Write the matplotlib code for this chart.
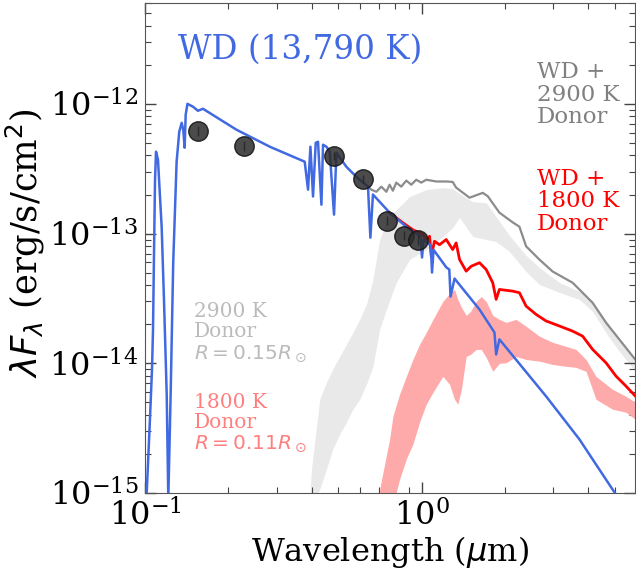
import matplotlib
matplotlib.use("Agg")
import matplotlib.pyplot as plt

plt.rcParams["font.family"] = "serif"
plt.rcParams["font.serif"] = ["DejaVu Serif"]
plt.rcParams["mathtext.fontset"] = "dejavusans"

# --- WD model spectrum (um, erg/s/cm2) ---
wd_wl = [0.1012, 0.1042, 0.106, 0.1069, 0.1077, 0.1087, 0.1096, 0.1114, 0.1149, 0.1171,
         0.1198, 0.1214, 0.1238, 0.1265, 0.1301, 0.133, 0.1357, 0.1375, 0.1391, 0.1403,
         0.1424, 0.1494, 0.1553, 0.162, 0.2143, 0.2827, 0.378, 0.3886, 0.3964, 0.4051,
         0.4143, 0.4223, 0.4344, 0.4403, 0.4529, 0.4656, 0.4825, 0.4922, 0.5348, 0.5812,
         0.6402, 0.6531, 0.6672, 0.7664, 0.8808, 0.9918, 1.004, 1.017, 1.08, 1.091,
         1.105, 1.228, 1.26, 1.273, 1.316, 1.62, 1.835, 1.861, 1.912, 2.82,
         3.72, 4.90, 5.41]
wd_flux = [9e-16, 3.71e-15, 9e-15, 1.83e-14, 6.31e-14, 2.6e-13, 4.28e-13, 3.71e-13, 1.11e-13, 3.11e-14,
           5.78e-15, 9e-16, 5.78e-15, 6.09e-14, 3.58e-13, 6.09e-13, 7.14e-13, 6.31e-13, 4.59e-13, 8.23e-13,
           1.0e-12, 9.48e-13, 8.84e-13, 9.16e-13, 6.31e-13, 4.67e-13, 3.58e-13, 2.18e-13, 4.67e-13, 1.93e-13,
           5.01e-13, 5.1e-13, 1.67e-13, 4.84e-13, 4.67e-13, 4.28e-13, 1.40e-13, 4.2e-13, 3.27e-13, 2.74e-13,
           2.3e-13, 9.3e-14, 2.0e-13, 1.45e-13, 1.13e-13, 9.48e-14, 6.54e-14, 9e-14, 8.1e-14, 5.01e-14,
           7.5e-14, 5.5e-14, 5.28e-14, 3.27e-14, 4.5e-14, 2.6e-14, 1.73e-14, 1.17e-14, 1.53e-14, 5.57e-15,
           2.6e-15, 1.07e-15, 7.8e-16]

# --- WD + 2900 K donor ---
wd29_wl = [0.6402, 0.658, 0.686, 0.7155, 0.746, 0.7664, 0.7877, 0.8101, 0.8445, 0.8808,
           0.9181, 0.957, 0.9975, 1.04, 1.13, 1.228, 1.296, 1.334, 1.491, 1.665,
           1.736, 1.912, 2.136, 2.259, 2.388, 2.667, 2.979, 3.518, 4.154, 4.644,
           5.187, 5.925]
wd29_flux = [2.3e-13, 2.18e-13, 2.1e-13, 2.3e-13, 2.1e-13, 2.38e-13, 2.14e-13, 2.47e-13, 2.3e-13, 2.56e-13,
             2.38e-13, 2.6e-13, 2.47e-13, 2.6e-13, 2.52e-13, 2.52e-13, 2.5e-13, 2.26e-13, 1.89e-13, 2.06e-13,
             1.94e-13, 1.45e-13, 1.22e-13, 1.13e-13, 7.98e-14, 6.31e-14, 5.1e-14, 4.18e-14, 2.93e-14, 2.06e-14,
             1.53e-14, 1.07e-14]

# --- WD + 1800 K donor ---
wd18_wl = [0.7664, 0.8561, 0.9302, 1.011, 1.04, 1.069, 1.084, 1.114, 1.161, 1.228,
           1.296, 1.334, 1.372, 1.45, 1.512, 1.62, 1.713, 1.809, 1.861, 1.912,
           2.136, 2.259, 2.388, 2.596, 2.82, 3.149, 3.518, 3.823, 4.154, 4.644,
           5.045, 5.483, 5.925]
wd18_flux = [1.45e-13, 1.21e-13, 1.07e-13, 9.83e-14, 9e-14, 9.53e-14, 6.68e-14, 8.73e-14, 8.2e-14, 9e-14,
             7.53e-14, 8.47e-14, 6.31e-14, 5.13e-14, 5.6e-14, 5.96e-14, 5.28e-14, 4.18e-14, 3.11e-14, 3.71e-14,
             3.6e-14, 3.5e-14, 2.76e-14, 2.38e-14, 2.12e-14, 1.94e-14, 1.77e-14, 1.62e-14, 1.28e-14, 1.01e-14,
             7.98e-15, 6.68e-15, 5.6e-15]

# --- donor-only spectra (noisy: upper / lower envelope) ---
d29_wl = [0.394, 0.40, 0.4283, 0.4529, 0.4773, 0.5058, 0.5348, 0.5649, 0.5973, 0.6317,
          0.6672, 0.7053, 0.746, 0.8101, 0.9053, 1.04, 1.194, 1.296, 1.372, 1.532,
          1.713, 1.861, 2.078, 2.388, 2.667, 3.149, 3.72, 4.154, 4.77, 5.187, 5.925]
d29_hi = [9e-16, 1.53e-15, 5.28e-15, 7.14e-15, 9e-15, 1.13e-14, 1.4e-14, 1.73e-14, 2.18e-14, 2.84e-14,
          4.43e-14, 9e-14, 1.24e-13, 1.53e-13, 1.93e-13, 2.18e-13, 2.26e-13, 2.22e-13, 2.03e-13, 1.76e-13,
          1.73e-13, 1.35e-13, 9.66e-14, 6.78e-14, 5.47e-14, 4.2e-14, 3.58e-14, 3e-14, 1.96e-14, 1.48e-14, 1.04e-14]
d29_lo = [8e-16, 8e-16, 1.07e-15, 1.53e-15, 2.18e-15, 2.84e-15, 3.52e-15, 4.43e-15, 5.28e-15, 6.89e-15,
          9.48e-15, 1.83e-14, 2.6e-14, 4.2e-14, 6.31e-14, 7.53e-14, 9.48e-14, 1.11e-13, 1.33e-13, 9.48e-14,
          9e-14, 8.67e-14, 7.27e-14, 5.1e-14, 4.05e-14, 3.52e-14, 3.11e-14, 2.51e-14, 1.58e-14, 1.24e-14, 8.67e-15]

d18_wl = [0.7053, 0.7664, 0.7877, 0.8329, 0.8808, 0.9302, 0.9836, 1.04, 1.10, 1.194,
          1.262, 1.316, 1.352, 1.394, 1.45, 1.503, 1.576, 1.643, 1.713, 1.809,
          1.912, 2.022, 2.198, 2.388, 2.667, 2.979, 3.33, 3.619, 3.933, 4.273,
          4.90, 5.483, 5.925]
d18_hi = [1.07e-15, 2.6e-15, 3.91e-15, 5.78e-15, 7.94e-15, 1.07e-14, 1.4e-14, 1.73e-14, 2.18e-14, 3e-14,
          3.45e-14, 3.71e-14, 3.11e-14, 2.7e-14, 2.34e-14, 2.51e-14, 3.0e-14, 3.27e-14, 3.0e-14, 2.34e-14,
          2.18e-14, 2.07e-14, 2.18e-14, 1.93e-14, 1.62e-14, 1.45e-14, 1.35e-14, 1.28e-14, 1.07e-14, 7.94e-15,
          6.31e-15, 5.57e-15, 5.01e-15]
d18_lo = [8e-16, 8e-16, 8e-16, 1.28e-15, 1.83e-15, 2.38e-15, 3.52e-15, 4.84e-15, 5.98e-15, 7.94e-15,
          6.89e-15, 5.28e-15, 4.84e-15, 6.31e-15, 1.13e-14, 1.17e-14, 1.28e-14, 1.28e-14, 1.11e-14, 8.67e-15,
          1.0e-14, 1.01e-14, 1.13e-14, 1.07e-14, 1.04e-14, 9.8e-15, 9.48e-15, 9.3e-15, 8.67e-15, 5.28e-15,
          4.43e-15, 4.2e-15, 3.71e-15]

# --- photometry ---
phot_wl = [0.1553, 0.2277, 0.481, 0.612, 0.747, 0.861, 0.967]
phot_flux = [6.2e-13, 4.75e-13, 3.98e-13, 2.65e-13, 1.26e-13, 9.66e-14, 8.99e-14]
phot_err = [6e-14, 4.5e-14, 3e-14, 2e-14, 1e-14, 8e-15, 8e-15]

fig = plt.figure(figsize=(6.36, 5.72), dpi=100)
ax = fig.add_axes([0.228, 0.138, 0.770, 0.857])

ax.fill_between(d29_wl, d29_lo, d29_hi, color="#e9e9e9", lw=0, zorder=1)
ax.fill_between(d18_wl, d18_lo, d18_hi, color="#ffaaaa", lw=0, zorder=2)
ax.plot(wd29_wl, wd29_flux, color="#8c8c8c", lw=1.6, zorder=3)
ax.plot(wd18_wl, wd18_flux, color="red", lw=2.0, zorder=4)
ax.plot(wd_wl, wd_flux, color="royalblue", lw=1.8, zorder=5)
ax.errorbar(phot_wl, phot_flux, yerr=phot_err, fmt="o", ms=14, color="#2b2b2b",
            alpha=0.85, mec="#111111", ecolor="k", elinewidth=1, capsize=0, zorder=6)

ax.set_xscale("log")
ax.set_yscale("log")
ax.set_xlim(0.1, 5.9)
ax.set_ylim(1e-15, 6e-12)

ax.tick_params(which="both", direction="in", top=True, right=True, colors="#444444",
               labelcolor="black", labelsize=23, pad=5)
ax.tick_params(which="major", length=8, width=1)
ax.tick_params(which="minor", length=4, width=0.8)
for s in ax.spines.values():
    s.set_color("#555555")

ax.set_xlabel(r"Wavelength ($\mu$m)", fontsize=23)
ax.set_ylabel(r"$\lambda F_\lambda$ (erg/s/cm$^2$)", fontsize=25.5)
ax.xaxis.set_label_coords(0.5, -0.083)
ax.yaxis.set_label_coords(-0.2, 0.51)

ax.text(0.068, 0.905, "WD (13,790 K)", transform=ax.transAxes, color="royalblue",
        fontsize=23.5, va="center", ha="left")
ax.text(0.8, 0.882, "WD +\n2900 K\nDonor", transform=ax.transAxes, color="#808080",
        fontsize=16.5, va="top", ha="left", linespacing=1.05)
ax.text(0.8, 0.664, "WD +\n1800 K\nDonor", transform=ax.transAxes, color="red",
        fontsize=16.5, va="top", ha="left", linespacing=1.05)
ax.text(0.1, 0.39, "2900 K\nDonor\n$R = 0.15R_\\odot$", transform=ax.transAxes,
        color="#bbbbbb", fontsize=14.5, va="top", ha="left", linespacing=1.1)
ax.text(0.1, 0.205, "1800 K\nDonor\n$R = 0.11R_\\odot$", transform=ax.transAxes,
        color="#ff7f7f", fontsize=14.5, va="top", ha="left", linespacing=1.1)

fig.savefig("out.png", dpi=100)
